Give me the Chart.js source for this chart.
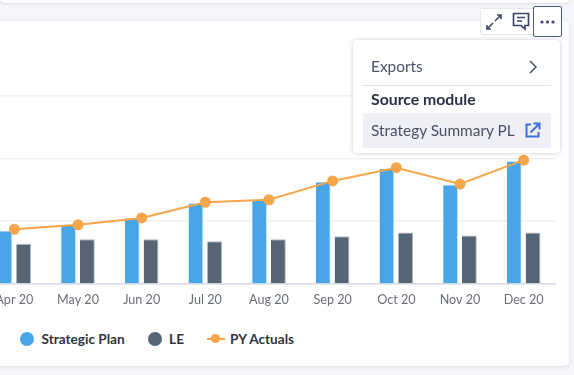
<!DOCTYPE html>
<html>
<head>
<meta charset="utf-8">
<script src="https://cdn.jsdelivr.net/npm/chart.js@4"></script>
<style>
  html, body { margin: 0; padding: 0; }
  body { width: 574px; height: 375px; overflow: hidden; position: relative; background: #f5f6fa; font-family: Lato, sans-serif; }
  .abs { position: absolute; box-sizing: border-box; }
  #topcard { left: 0; top: -10px; width: 570px; height: 13px; background: #fff; border-radius: 5px; box-shadow: 0 1px 3px rgba(40,50,80,.12); }
  #card { left: -10px; top: 21px; width: 579px; height: 345px; background: #fff; border-radius: 5px; box-shadow: 0 1px 4px rgba(40,50,80,.12); }
  #grafik { position: absolute; left: -24px; top: 21px; }
  #legend { left: 20px; top: 330px; display: flex; align-items: center; font-size: 13.6px; font-weight: 700; color: #2f3442; height: 17px; white-space: nowrap; }
  #legend span { display: inline-block; }
  .dot { width: 14px; height: 14px; border-radius: 50%; margin-right: 7.5px; }
  .key { width: 18px; height: 2px; position: relative; margin-right: 5px; }
  .key i { position: absolute; left: 4.5px; top: -3.5px; width: 9px; height: 9px; border-radius: 50%; background: inherit; }
  #tools { left: 480px; top: 8px; width: 82px; height: 27px; background: #fff; border: 1px solid #e6e8f1; border-radius: 2px; }
  #more { left: 533px; top: 6px; width: 29px; height: 31px; background: #fff; border: 1px solid #4a5a86; border-radius: 2px; }
  #menu { left: 353px; top: 40px; width: 207px; height: 113px; background: #fff; border-radius: 4px; box-shadow: 0 0 4px rgba(40,50,90,.25); color: #4b5068; font-size: 15.4px; }
  #menu div { position: absolute; white-space: nowrap; }
  #rule { left: 9px; top: 45px; width: 189px; height: 1px; background: #dfe1ec; }
  #row { left: 10px; top: 73px; width: 188px; height: 35px; background: #eef0f6; border-radius: 2px; }
</style>
</head>
<body>
<div class="abs" id="topcard"></div>
<div class="abs" id="card"></div>
<canvas id="grafik" width="586" height="286"></canvas>
<div class="abs" id="legend"></div>

<div class="abs" id="tools"></div>
<svg class="abs" style="left:484px;top:12px" width="20" height="20" viewBox="0 0 20 20" fill="none" stroke="#3c4766" stroke-width="1.6">
  <path d="M11 9l6-6M13 3h4v4M9 11l-6 6M3 13v4h4"/>
</svg>
<svg class="abs" style="left:511px;top:11px" width="20" height="22" viewBox="0 0 20 22" fill="none" stroke="#3c4766" stroke-width="1.7">
  <path d="M2.5 2.5h15v12h-3.5v3.5l-4-3.5h-7.5z"/><path d="M6 6.5h8M6 10h5"/>
</svg>
<div class="abs" id="more"></div>
<svg class="abs" style="left:539px;top:18px" width="18" height="8" viewBox="0 0 18 8" fill="#3c4766">
  <circle cx="3" cy="4" r="1.6"/><circle cx="8.5" cy="4" r="1.6"/><circle cx="14" cy="4" r="1.6"/>
</svg>

<div class="abs" id="menu">
  <div style="left:18px;top:17px">Exports</div>
  <svg style="position:absolute;left:174px;top:20px" width="12" height="14" viewBox="0 0 12 14" fill="none" stroke="#4b5068" stroke-width="1.5"><path d="M3 1l6 6-6 6"/></svg>
  <div id="rule"></div>
  <div style="left:18px;top:49px;font-weight:700;color:#2b3047;font-size:15.8px">Source module</div>
  <div id="row"></div>
  <div style="left:18px;top:81px">Strategy Summary PL</div>
  <svg style="position:absolute;left:172px;top:82px" width="16" height="16" viewBox="0 0 16 16" fill="none" stroke="#3f6fe0" stroke-width="2"><path d="M6 2.5H1.5v12h12V10"/><path d="M5.5 10.5L14 2M8.5 1.5h6v6"/></svg>
</div>

<script>
var months = ["Apr 20", "May 20", "Jun 20", "Jul 20", "Aug 20", "Sep 20", "Oct 20", "Nov 20", "Dec 20"];
var strategicPlan = [84, 92, 104, 128, 132, 162, 183, 157, 195];
var le = [64, 71, 71, 68, 71, 76, 82, 77, 82];
var pyActuals = [87, 94, 105, 130, 134, 164, 185, 159, 197];

var grafik = document.getElementById('grafik').getContext('2d');
var chart = new Chart(grafik, {
  type: 'bar',
  data: {
    labels: months,
    datasets: [
      {
        type: 'line',
        label: 'PY Actuals',
        data: pyActuals,
        borderColor: '#f5a54a',
        backgroundColor: '#f5a54a',
        borderWidth: 2,
        pointRadius: 4.5,
        pointHoverRadius: 4.5,
        tension: 0,
        order: 0
      },
      {
        label: 'Strategic Plan',
        data: strategicPlan,
        backgroundColor: '#47a5e8',
        borderColor: '#cfe6f8',
        borderWidth: { right: 1 },
        categoryPercentage: 0.59,
        barPercentage: 0.79,
        order: 1
      },
      {
        label: 'LE',
        data: le,
        backgroundColor: '#566573',
        borderColor: '#b4bcc6',
        borderWidth: { right: 1, top: 1 },
        categoryPercentage: 0.59,
        barPercentage: 0.79,
        order: 2
      }
    ]
  },
  options: {
    responsive: false,
    animation: false,
    layout: { padding: { top: 74.5 } },
    scales: {
      x: {
        grid: { display: false },
        border: { color: '#d6dbe8', width: 1.5 },
        ticks: { color: '#6a6e78', font: { family: 'Lato', size: 12.6 }, padding: 0, maxRotation: 0, autoSkip: false }
      },
      y: {
        min: 0,
        max: 300,
        afterFit: function(axis) { axis.width = 0; },
        border: { display: false },
        grid: { color: '#f0f1f4', lineWidth: 1.5, drawTicks: false },
        ticks: { display: false, stepSize: 100 }
      }
    },
    plugins: {
      legend: { display: false },
      tooltip: { enabled: false }
    }
  }
});

// legend built from the chart's own datasets, line series last
var legend = document.getElementById('legend');
[1, 2, 0].forEach(function(i) {
  var ds = chart.data.datasets[i];
  var html = ds.type === 'line'
    ? '<span class="key" style="background:' + ds.borderColor + '"><i></i></span>'
    : '<span class="dot" style="background:' + ds.backgroundColor + '"></span>';
  var item = document.createElement('span');
  item.style.cssText = 'display:flex;align-items:center;margin-right:23px';
  item.innerHTML = html + '<span>' + ds.label + '</span>';
  legend.appendChild(item);
});
</script>
</body>
</html>
